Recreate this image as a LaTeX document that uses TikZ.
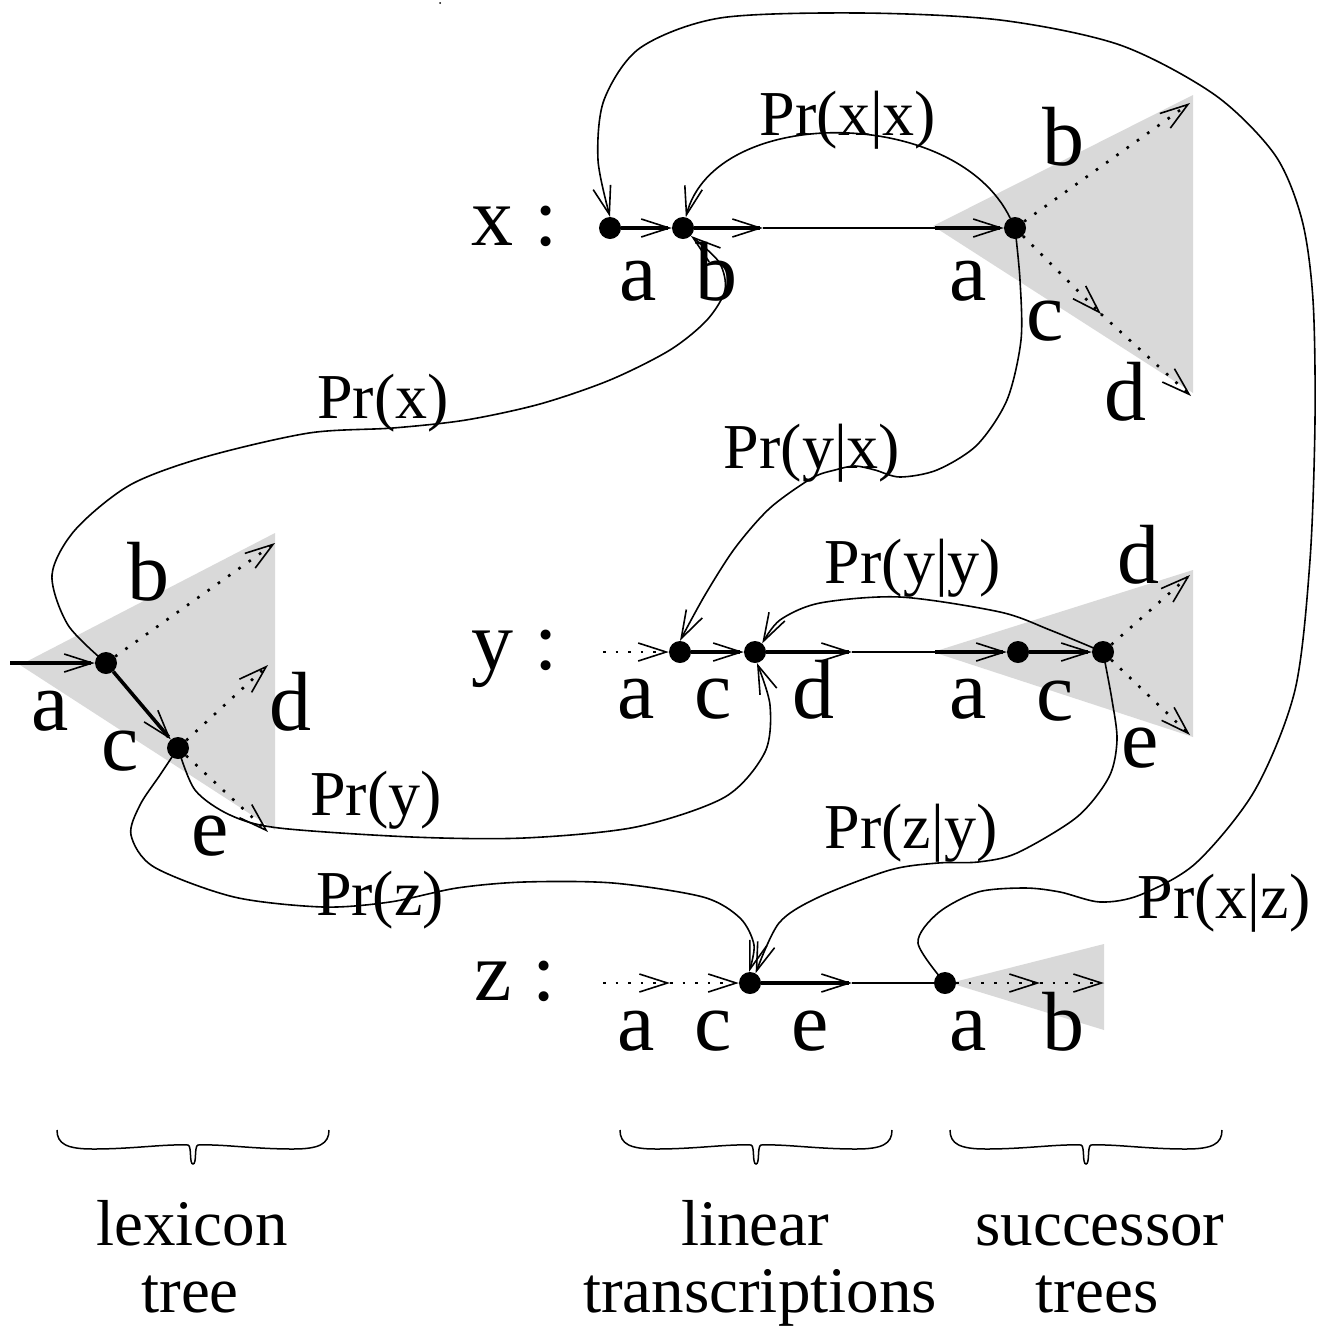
\documentclass[tikz,border=0pt]{standalone}
\usepackage{fontspec}
\setmainfont{Liberation Serif}
\usetikzlibrary{arrows.meta}
\definecolor{tri}{gray}{0.85}
\begin{document}
\begin{tikzpicture}[x=1pt,y=1pt,
  >={Straight Barb[length=28pt,width=18pt,line width=1.6pt]},
  tk/.style={line width=3.6pt},
  tl/.style={line width=1.6pt},
  dt/.style={line width=2.6pt, dash pattern=on 2.6pt off 10pt},
  crv/.style={line width=1.6pt},
  dot/.style={circle, fill=black, inner sep=0pt, minimum size=22pt},
  lab/.style={font=\fontsize{84}{84}\selectfont, inner sep=0pt, anchor=base},
  prl/.style={font=\fontsize{64}{64}\selectfont, inner sep=0pt, anchor=base},
  btm/.style={font=\fontsize{65}{65}\selectfont, inner sep=0pt, anchor=base},
  brc/.pic={\draw[line width=1.5pt] (-136,0) .. controls (-136,-14) and (-126,-19) .. (-100,-19)
      .. controls (-60,-19) and (-30,-14) .. (-5,-15)
      .. controls (-1,-16) and (-4,-34) .. (0,-34)
      .. controls (4,-34) and (1,-16) .. (5,-15)
      .. controls (30,-14) and (60,-19) .. (100,-19)
      .. controls (126,-19) and (136,-14) .. (136,0);}
]
\useasboundingbox (0,0) rectangle (1318,-1326);

% shaded successor / lexicon trees
\fill[tri] (933,-226) -- (1193,-95) -- (1193,-393) -- cycle;
\fill[tri] (933,-652) -- (1193,-570) -- (1193,-737) -- cycle;
\fill[tri] (950,-983) -- (1104,-944) -- (1104,-1030) -- cycle;
\fill[tri] (20,-665) -- (275,-533) -- (275,-830) -- cycle;

% dots
\node[dot] (x1) at (610,-228) {};
\node[dot] (x2) at (683,-228) {};
\node[dot] (x3) at (1015,-228) {};
\node[dot] (y1) at (680,-652) {};
\node[dot] (y2) at (755,-652) {};
\node[dot] (y3) at (1018,-652) {};
\node[dot] (y4) at (1103,-652) {};
\node[dot] (z1) at (750,-983) {};
\node[dot] (z2) at (945,-983) {};
\node[dot] (l1) at (106,-663) {};
\node[dot] (l2) at (178,-748) {};

% free ends
\coordinate (xa) at (763,-228); \coordinate (xb) at (935,-228);
\coordinate (ya0) at (603,-652); \coordinate (ya) at (852,-652); \coordinate (yb) at (935,-652);
\coordinate (za0) at (603,-983); \coordinate (zam) at (670,-983); \coordinate (za) at (852,-983);
\coordinate (zt1) at (1040,-983); \coordinate (zt2) at (1104,-983);
\coordinate (xt1) at (1190,-103); \coordinate (xt2) at (1101,-314); \coordinate (xt3) at (1191,-396);
\coordinate (yt1) at (1190,-575); \coordinate (yt2) at (1190,-735);
\coordinate (l0) at (10,-663); \coordinate (lt1) at (275,-543); \coordinate (lt2) at (268,-665); \coordinate (lt3) at (268,-832);

% row x
\draw[tk,->] (x1) -- (x2);
\draw[tk,->] (x2) -- (xa);
\draw[tl] (xa) -- (xb);
\draw[tk,->] (xb) -- (x3);
\draw[dt,->] (x3) -- (xt1);
\draw[dt,->] (x3) -- (xt2);
\draw[dt,->] (xt2) -- (xt3);
% row y
\draw[dt,->] (ya0) -- (y1);
\draw[tk,->] (y1) -- (y2);
\draw[tk,->] (y2) -- (ya);
\draw[tl] (ya) -- (yb);
\draw[tk,->] (yb) -- (y3);
\draw[tk,->] (y3) -- (y4);
\draw[dt,->] (y4) -- (yt1);
\draw[dt,->] (y4) -- (yt2);
% row z
\draw[dt,->] (za0) -- (zam);
\draw[dt,->] (zam) -- (z1);
\draw[tk,->] (z1) -- (za);
\draw[tl] (za) -- (z2);
\draw[dt,->] (z2) -- (zt1);
\draw[dt,->] (zt1) -- (zt2);
% lexicon tree
\draw[tk,->] (l0) -- (l1);
\draw[tk,->] (l1) -- (l2);
\draw[dt,->] (l1) -- (lt1);
\draw[dt,->] (l2) -- (lt2);
\draw[dt,->] (l2) -- (lt3);

% probability curves
\draw[crv,->] (x3) .. controls (955,-105) and (715,-105) .. (x2);
\draw[crv,->] plot[smooth] coordinates {(l1.center) (68,-625) (52,-575) (75,-530) (130,-485) (205,-457) (309,-433) (393,-428) (466,-420) (540,-404) (610,-380) (670,-350) (707,-320) (725,-290) (719,-262) (x2.-45)};
\draw[crv,->] plot[smooth] coordinates {(x3.center) (1020,-280) (1021,-340) (1007,-400) (977,-445) (937,-470) (900,-477) (875,-470) (855,-466) (835,-470) (812,-478) (770,-508) (735,-548) (705,-595) (y1.north)};
\draw[crv,->] plot[smooth] coordinates {(y4.center) (1050,-630) (1000,-612) (900,-597) (820,-603) (780,-620) (y2.50)};
\draw[crv,->] plot[smooth] coordinates {(l2.center) (195,-790) (230,-815) (279,-828) (412,-837) (524,-838) (636,-827) (725,-797) (765,-752) (770,-705) (y2.-80)};
\draw[crv,->] plot[smooth] coordinates {(l2.center) (160,-775) (140,-805) (131,-835) (154,-867) (234,-897) (323,-907) (390,-902) (457,-888) (524,-882) (613,-883) (703,-897) (740,-918) (754,-945) (z1.95)};
\draw[crv,->] plot[smooth] coordinates {(y4.center) (1112,-700) (1117,-740) (1109,-777) (1077,-817) (1017,-853) (978,-862) (938,-863) (890,-870) (819,-897) (779,-923) (z1.60)};
\draw[crv,->] plot[smooth] coordinates {(z2.center) (918,-943) (938,-913) (978,-892) (1025,-888) (1060,-892) (1100,-902) (1140,-895) (1196,-863) (1255,-790) (1295,-690) (1310,-560) (1315,-420) (1313,-300) (1302,-220) (1275,-155) (1215,-95) (1120,-45) (1000,-20) (860,-13) (720,-18) (640,-48) (604,-100) (598,-160) (x1.north)};

% row labels
\node[lab] (tx) at (515,-245) {x :};
\node[lab] (ty) at (515,-669) {y :};
\node[lab] (tz) at (515,-1000) {z :};
\node[lab] at (638,-300) {a};
\node[lab] at (716,-300) {b};
\node[lab] at (968,-300) {a};
\node[lab] at (1063,-165) {b};
\node[lab] at (1045,-340) {c};
\node[lab] at (1125,-420) {d};
\node[lab] at (636,-718) {a};
\node[lab] at (713,-718) {c};
\node[lab] at (813,-718) {d};
\node[lab] at (968,-718) {a};
\node[lab] at (1055,-720) {c};
\node[lab] at (1138,-583) {d};
\node[lab] at (1140,-767) {e};
\node[lab] at (636,-1050) {a};
\node[lab] at (713,-1050) {c};
\node[lab] at (810,-1050) {e};
\node[lab] at (968,-1050) {a};
\node[lab] at (1063,-1050) {b};
\node[lab] at (148,-600) {b};
\node[lab] at (50,-730) {a};
\node[lab] at (120,-770) {c};
\node[lab] at (290,-730) {d};
\node[lab] at (210,-855) {e};

% probability labels
\node[prl] at (848,-135) {Pr(x|x)};
\node[prl] at (383,-418) {Pr(x)};
\node[prl] at (812,-468) {Pr(y|x)};
\node[prl] at (913,-583) {Pr(y|y)};
\node[prl] at (376,-815) {Pr(y)};
\node[prl] at (911,-848) {Pr(z|y)};
\node[prl] at (380,-915) {Pr(z)};
\node[prl] at (1224,-918) {Pr(x|z)};

% braces and captions
\pic at (193,-1130) {brc};
\pic at (756,-1130) {brc};
\pic at (1086,-1130) {brc};
\node[btm] at (192,-1245) {lexicon};
\node[btm] at (190,-1312) {tree};
\node[btm] at (755,-1245) {linear};
\node[btm] at (760,-1312) {transcriptions};
\node[btm] at (1100,-1245) {successor};
\node[btm] at (1097,-1312) {trees};
\fill (440,-3) circle (1pt);
\end{tikzpicture}
\end{document}
